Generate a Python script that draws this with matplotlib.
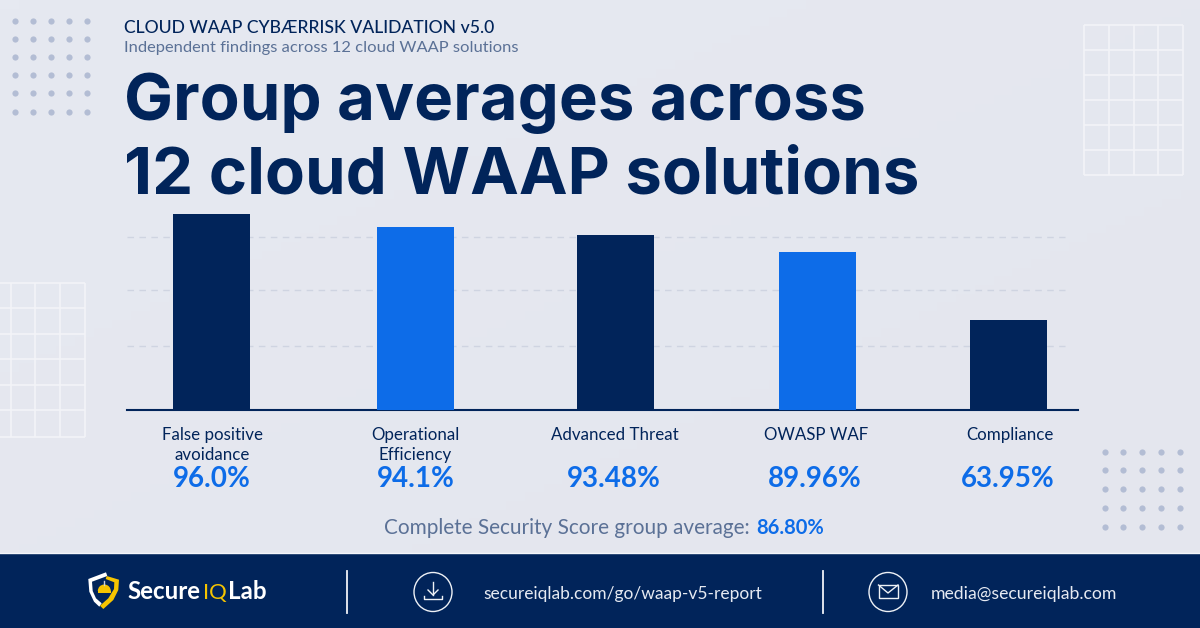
import matplotlib
matplotlib.use("Agg")
import matplotlib.pyplot as plt
import numpy as np
from matplotlib.patches import Ellipse, Polygon, Rectangle, Wedge

# ---- data ----
categories = ["False positive\navoidance", "Operational\nEfficiency", "Advanced Threat", "OWASP WAF", "Compliance"]
value_labels = ["96.0%", "94.1%", "93.48%", "89.96%", "63.95%"]
bar_heights = [196, 183, 175, 158, 90]      # drawn heights
gridline_levels = [173, 120, 64]
bar_centers = [211.5, 415.5, 615, 817.5, 1008.5]
label_centers = [212.5, 415.5, 614.5, 816, 1009.5]
value_centers = [212, 416, 614, 814.5, 1007.5]

eyebrow = "CLOUD WAAP CYBÆRRISK VALIDATION v5.0"
subtitle = "Independent findings across 12 cloud WAAP solutions"
title_lines = ["Group averages across", "12 cloud WAAP solutions"]
summary_text = "Complete Security Score group average: "
summary_value = "86.80%"
footer_link = "secureiqlab.com/go/waap-v5-report"
footer_mail = "media@secureiqlab.com"

NAVY = "#01245A"
BLUE = "#0D6CE8"
BG = "#E5E8F0"
GREY = "#5B7196"
YELLOW = "#F6C400"
DOT = "#B3BDD4"
FONT = "Lato"
TITLE_FONT = "Inter"

fig = plt.figure(figsize=(12, 6.28), dpi=100, facecolor=BG)
bg = fig.add_axes([0, 0, 1, 1])
bg.set_xlim(0, 1200)
bg.set_ylim(628, 0)
bg.axis("off")

# soft background gradient
yy, xx = np.mgrid[0:1:64j, 0:1:64j]
grad = 0.5 * (xx + yy)
c0 = np.array([0xE6, 0xE9, 0xF1]) / 255
c1 = np.array([0xE4, 0xE6, 0xEE]) / 255
bg.imshow(c0 + (c1 - c0) * grad[..., None], extent=(0, 1200, 553, 0), aspect="auto", zorder=0)
bg.set_xlim(0, 1200)
bg.set_ylim(628, 0)

# decorative dots
for xs, ys in [((15, 33, 51, 69, 87), (21, 39, 57, 75, 93, 112)),
               ((1105, 1123, 1142, 1161, 1180), (452, 470, 489, 508, 527))]:
    gx, gy = np.meshgrid(xs, ys)
    bg.scatter(gx.ravel(), gy.ravel(), s=20, color=DOT, linewidths=0, zorder=1)

# decorative grids
def deco_grid(xs, ys, x0):
    for x in xs:
        bg.plot([x, x], [ys[0], ys[-1]], color="#F3F4F8", lw=1.2, zorder=1, solid_capstyle="butt")
    for y in ys:
        bg.plot([x0, xs[-1]], [y, y], color="#F3F4F8", lw=1.2, zorder=1, solid_capstyle="butt")

deco_grid((1084, 1109, 1134, 1158, 1183), (25, 50, 75, 100, 125, 150, 175), 1084)
deco_grid((11, 35, 60, 85), (283, 308, 334, 359, 385, 410, 437), 0)

# header text
bg.text(124, 33, eyebrow, fontsize=12.7, color=NAVY, family=FONT, weight="medium", va="baseline", ha="left")
bg.text(124, 52, subtitle, fontsize=11.85, color=GREY, family=FONT, va="baseline", ha="left")
bg.text(124, 120, title_lines[0], fontsize=47, color=NAVY, family=TITLE_FONT, weight="bold", va="baseline", ha="left")
bg.text(124, 193, title_lines[1], fontsize=47, color=NAVY, family=TITLE_FONT, weight="bold", va="baseline", ha="left")

# chart: data axes whose pixel scale follows the figure
left, right, base, top = 127, 1078, 410, 200
ax = fig.add_axes([left / 1200, 1 - base / 628, (right - left) / 1200, (base - top) / 628])
ax.patch.set_alpha(0)
ax.set_xlim(left, right)
ax.set_ylim(0, base - top)
for s in ("top", "left", "right"):
    ax.spines[s].set_visible(False)
ax.spines["bottom"].set_color(NAVY)
ax.spines["bottom"].set_linewidth(1.5)
ax.set_xticks([])
ax.set_yticks([])
for lvl in gridline_levels:
    ax.plot([left, 1065], [lvl, lvl], color="#CFD4E1", lw=1, dashes=(4.7, 3.9), zorder=1)
colors = [NAVY, BLUE, NAVY, BLUE, NAVY]
ax.bar(bar_centers, bar_heights, width=77, color=colors, zorder=3, clip_on=False)

# category labels and values
for cat, vx, lx, val in zip(categories, value_centers, label_centers, value_labels):
    lines = cat.split("\n")
    for i, line in enumerate(lines):
        bg.text(lx, 440 + i * 20, line, fontsize=12.2, color=NAVY, family=FONT, ha="center", va="baseline")
    bg.text(vx, 487, val, fontsize=20, color=BLUE, family=FONT, weight="bold", ha="center", va="baseline")

# summary, two runs
bg.text(384, 534, summary_text, fontsize=14.95, color=GREY, family=FONT, ha="left", va="baseline")
bg.text(756, 534, summary_value, fontsize=14.5, color=BLUE, family=FONT, weight="bold", ha="left", va="baseline")

# footer
bg.add_patch(Rectangle((0, 553), 1200, 75, facecolor=NAVY, edgecolor="none", zorder=2))
bg.plot([0, 1200], [553, 553], color="#F4F6FA", lw=1, zorder=3)
for x in (347, 823):
    bg.plot([x, x], [571, 613], color="#F0F2F7", lw=1.3, zorder=3)

# shield logo
shield_left = [(106, 572.3), (88.3, 579), (89.3, 591.7), (94, 601.7), (99.3, 606.7), (101.7, 603.3),
               (96, 598.3), (92.7, 591), (92, 581.7), (107.3, 576)]
shield_right = [(106.7, 576), (119, 579.7), (118.3, 590), (113.3, 600), (103.3, 609), (100, 605.7),
                (108.3, 598.3), (114, 589), (114.3, 582.3), (105.7, 579)]
bg.add_patch(Polygon(shield_left, closed=True, facecolor="white", edgecolor="none", zorder=4))
bg.add_patch(Polygon(shield_right, closed=True, facecolor=YELLOW, edgecolor="none", zorder=4))
bg.add_patch(Wedge((104.3, 591), 6.5, 180, 360, facecolor=YELLOW, edgecolor="none", zorder=4))
bg.add_patch(Rectangle((97.5, 591), 13.5, 2.2, facecolor=YELLOW, edgecolor="none", zorder=4))
bg.plot([104.3, 104.3], [581, 585], color="#C9CFDB", lw=1, zorder=4)

# logo wordmark: three runs placed end to end
for word, col, px, size, wt in [("Secure", "white", 127, 17.4, "bold"),
                                ("IQ", YELLOW, 203, 15.8, "normal"),
                                ("Lab", "white", 228.5, 17.4, "bold")]:
    bg.text(px, 599, word, fontsize=size, color=col, family=FONT, weight=wt, ha="left", va="baseline", zorder=4)

# icons
LINE = "#EEF1F6"
bg.add_patch(Ellipse((433, 592), 38, 39, facecolor="none", edgecolor=LINE, lw=1, zorder=4))
bg.plot([433, 433], [582, 595], color=LINE, lw=1, zorder=4)
bg.plot([428, 433, 438], [590, 595, 590], color=LINE, lw=1, zorder=4)
bg.plot([424, 424, 442, 442], [596, 599, 599, 596], color=LINE, lw=1, zorder=4)

bg.add_patch(Ellipse((888, 592), 38, 39, facecolor="none", edgecolor=LINE, lw=1, zorder=4))
bg.add_patch(Rectangle((878.5, 585), 19.5, 13, facecolor="none", edgecolor=LINE, lw=1, zorder=4))
bg.plot([878.5, 888, 898], [585, 593, 585], color=LINE, lw=1, zorder=4)

bg.text(483, 592, footer_link, fontsize=12.5, color="#E6EAF2", family=FONT, ha="left", va="center_baseline", zorder=4)
bg.text(931, 592, footer_mail, fontsize=12.7, color="#E6EAF2", family=FONT, ha="left", va="center_baseline", zorder=4)

fig.savefig("out.png", dpi=100, facecolor=BG)
